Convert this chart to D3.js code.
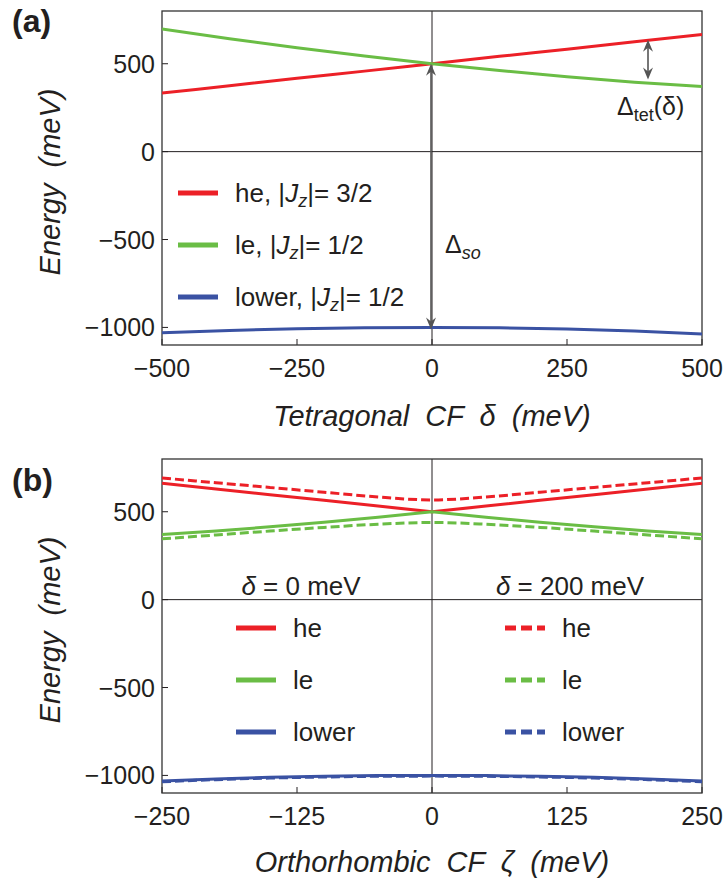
<!DOCTYPE html>
<html>
<head>
<meta charset="utf-8">
<script src="https://cdn.jsdelivr.net/npm/d3@7"></script>
<style>
  body { margin: 0; background: #fff; }
  text { font-family: "Liberation Sans", Arial, sans-serif; fill: #231f20; }
</style>
</head>
<body>
<svg width="727" height="883"></svg>
<script>
// panel (a): tetragonal crystal field delta (meV)
var delta = [-500, -375, -250, -125, 0, 125, 250, 375, 500];
var heA  = [333, 375, 417, 458, 500, 542, 583, 625, 667];
var leA  = [697, 642, 591, 544, 500, 461, 426, 395, 370];
var lowA = [-1030, -1017, -1008, -1002, -1000, -1002, -1009, -1020, -1037];

// panel (b): orthorhombic crystal field zeta (meV), delta = 0 and delta = 200
var zeta = [-250, -200, -150, -100, -50, 0, 50, 100, 150, 200, 250];
var heB0    = [662, 630, 597, 565, 532, 500, 532, 565, 597, 630, 662];
var leB0    = [370, 390, 414, 440, 469, 500, 469, 440, 414, 390, 370];
var lowB0   = [-1032, -1020, -1011, -1005, -1001, -1000, -1001, -1005, -1011, -1020, -1032];
var heB200  = [692, 665, 638, 611, 584, 567, 584, 611, 638, 665, 692];
var leB200  = [346, 368, 390, 411, 429, 439, 429, 411, 390, 368, 346];
var lowB200 = [-1036, -1024, -1015, -1009, -1005, -1004, -1005, -1009, -1015, -1024, -1036];

var yTicks = [500, 0, -500, -1000];
var xTicksA = [-500, -250, 0, 250, 500];
var xTicksB = [-250, -125, 0, 125, 250];

var red = "#ec2027", green = "#6abd45", blue = "#3a52a3", ink = "#231f20", gray = "#555";

var svg = d3.select("svg");
var fmt = function (v) { return v < 0 ? "\u2212" + Math.abs(v) : "" + v; };

function panel(top, xDomain, xTicks, id) {
    var x = d3.scaleLinear().domain(xDomain).range([162, 702]);
    var y = d3.scaleLinear().domain([-1100, 800]).range([top + 334, top]);
    var g = svg.append("g");

    svg.append("clipPath").attr("id", id)
        .append("rect").attr("x", 162).attr("y", top).attr("width", 540).attr("height", 334);

    // zero lines
    g.append("line").attr("x1", x(0)).attr("x2", x(0)).attr("y1", top).attr("y2", top + 334)
        .attr("stroke", ink).attr("stroke-width", 1);
    g.append("line").attr("x1", 162).attr("x2", 702).attr("y1", y(0)).attr("y2", y(0))
        .attr("stroke", ink).attr("stroke-width", 1);

    // inward ticks
    g.selectAll(".yt").data(yTicks).enter().append("line")
        .attr("x1", 162).attr("x2", 168).attr("y1", function (d) { return y(d); }).attr("y2", function (d) { return y(d); })
        .attr("stroke", ink).attr("stroke-width", 1);
    g.selectAll(".xt").data(xTicks).enter().append("line")
        .attr("x1", function (d) { return x(d); }).attr("x2", function (d) { return x(d); })
        .attr("y1", top + 334).attr("y2", top + 328)
        .attr("stroke", ink).attr("stroke-width", 1);

    g.selectAll(".yl").data(yTicks).enter().append("text")
        .attr("x", 155).attr("y", function (d) { return y(d) + 9; })
        .attr("text-anchor", "end").attr("font-size", 25)
        .text(fmt);
    g.selectAll(".xl").data(xTicks).enter().append("text")
        .attr("x", function (d) { return x(d); }).attr("y", top + 366)
        .attr("text-anchor", "middle").attr("font-size", 25)
        .text(fmt);

    g.append("rect").attr("x", 162).attr("y", top).attr("width", 540).attr("height", 334)
        .attr("fill", "none").attr("stroke", "#333").attr("stroke-width", 1.3);

    return { x: x, y: y, g: g, clip: "url(#" + id + ")" };
}

function curve(p, xs, ys, color, dash, kind) {
    var line = d3.line()
        .x(function (d, i) { return p.x(xs[i]); })
        .y(function (d) { return p.y(d); })
        .curve(kind || d3.curveMonotoneX);
    p.g.append("path").datum(ys)
        .attr("d", line)
        .attr("clip-path", p.clip)
        .attr("fill", "none").attr("stroke", color).attr("stroke-width", 3)
        .attr("stroke-dasharray", dash || null);
}

function legendRow(g, x, y, color, dash) {
    g.append("line").attr("x1", x).attr("x2", x + 40).attr("y1", y).attr("y2", y)
        .attr("stroke", color).attr("stroke-width", 5).attr("stroke-dasharray", dash || null);
}

function arrowHead(g, x, y, dir) {
    // dir = 1: tip points up, dir = -1: tip points down
    g.append("path")
        .attr("d", "M" + x + "," + y + "L" + (x - 5) + "," + (y + 12 * dir) + "L" + x + "," + (y + 8 * dir) +
            "L" + (x + 5) + "," + (y + 12 * dir) + "Z")
        .attr("fill", gray);
}

// ---------- panel (a)
var a = panel(11, [-500, 500], xTicksA, "clipA");
curve(a, delta, heA, red);
curve(a, delta, leA, green);
curve(a, delta, lowA, blue);

// spin-orbit gap arrow
var sx = a.x(0) - 1;
a.g.append("line").attr("x1", sx).attr("x2", sx).attr("y1", a.y(500) + 4).attr("y2", a.y(-1000) - 4)
    .attr("stroke", gray).attr("stroke-width", 1.6);
arrowHead(a.g, sx, a.y(500), 1);
arrowHead(a.g, sx, a.y(-1000) + 2, -1);
var tso = a.g.append("text").attr("x", 445).attr("y", 253).attr("font-size", 25);
tso.append("tspan").text("\u0394");
tso.append("tspan").attr("font-style", "italic").attr("font-size", 18).attr("dy", 6).text("so");

// tetragonal splitting arrow at delta = 400
var tx = a.x(400);
a.g.append("line").attr("x1", tx).attr("x2", tx).attr("y1", a.y(636) + 4).attr("y2", a.y(410) - 4)
    .attr("stroke", gray).attr("stroke-width", 1.6);
arrowHead(a.g, tx, a.y(636), 1);
arrowHead(a.g, tx, a.y(410), -1);
var tt = a.g.append("text").attr("x", 617).attr("y", 115).attr("font-size", 25);
tt.append("tspan").text("\u0394");
tt.append("tspan").attr("font-size", 18).attr("dy", 6).text("tet");
tt.append("tspan").attr("dy", -6).text("(\u03b4)");

// legend (a)
var legA = [["he", "3/2", red], ["le", "1/2", green], ["lower", "1/2", blue]];
legA.forEach(function (r, i) {
    var ly = 193 + i * 52;
    legendRow(a.g, 178, ly, r[2]);
    var t = a.g.append("text").attr("x", 235).attr("y", ly + 9).attr("font-size", 26);
    t.append("tspan").text(r[0] + ", |");
    t.append("tspan").attr("font-style", "italic").text("J");
    t.append("tspan").attr("font-style", "italic").attr("font-size", 18).attr("dy", 5).text("z");
    t.append("tspan").attr("dy", -5).text("|= " + r[1]);
});

// ---------- panel (b)
var b = panel(459, [-250, 250], xTicksB, "clipB");
curve(b, zeta, heB0, red, null, d3.curveLinear);
curve(b, zeta, leB0, green, null, d3.curveLinear);
curve(b, zeta, lowB0, blue);
curve(b, zeta, heB200, red, "9,4");
curve(b, zeta, leB200, green, "9,4");
curve(b, zeta, lowB200, blue, "9,4");

[["\u03b4", " = 0 meV", 301], ["\u03b4", " = 200 meV", 570]].forEach(function (r) {
    var t = b.g.append("text").attr("x", r[2]).attr("y", 595).attr("text-anchor", "middle").attr("font-size", 26);
    t.append("tspan").attr("font-style", "italic").text(r[0]);
    t.append("tspan").text(r[1]);
});

var legB = [["he", red], ["le", green], ["lower", blue]];
legB.forEach(function (r, i) {
    var ly = 628 + i * 52;
    legendRow(b.g, 236, ly, r[1]);
    b.g.append("text").attr("x", 293).attr("y", ly + 9).attr("font-size", 26).text(r[0]);
    legendRow(b.g, 505, ly, r[1], "11,5");
    b.g.append("text").attr("x", 562).attr("y", ly + 9).attr("font-size", 26).text(r[0]);
});

// ---------- titles
function xTitle(y, name, sym) {
    var t = svg.append("text").attr("x", 432).attr("y", y).attr("text-anchor", "middle")
        .attr("font-size", 29).attr("font-style", "italic").attr("word-spacing", 8);
    t.text(name + " " + sym + " (meV)");
}
xTitle(426, "Tetragonal CF", "\u03b4");
xTitle(872, "Orthorhombic CF", "\u03b6");

[182, 630].forEach(function (cy) {
    svg.append("text").attr("transform", "translate(60," + cy + ") rotate(-90)")
        .attr("text-anchor", "middle").attr("font-size", 29).attr("font-style", "italic")
        .attr("word-spacing", 8).text("Energy (meV)");
});

svg.append("text").attr("x", 12).attr("y", 32).attr("font-size", 32).attr("font-weight", "bold").text("(a)");
svg.append("text").attr("x", 12).attr("y", 491).attr("font-size", 32).attr("font-weight", "bold").text("(b)");
</script>
</body>
</html>
